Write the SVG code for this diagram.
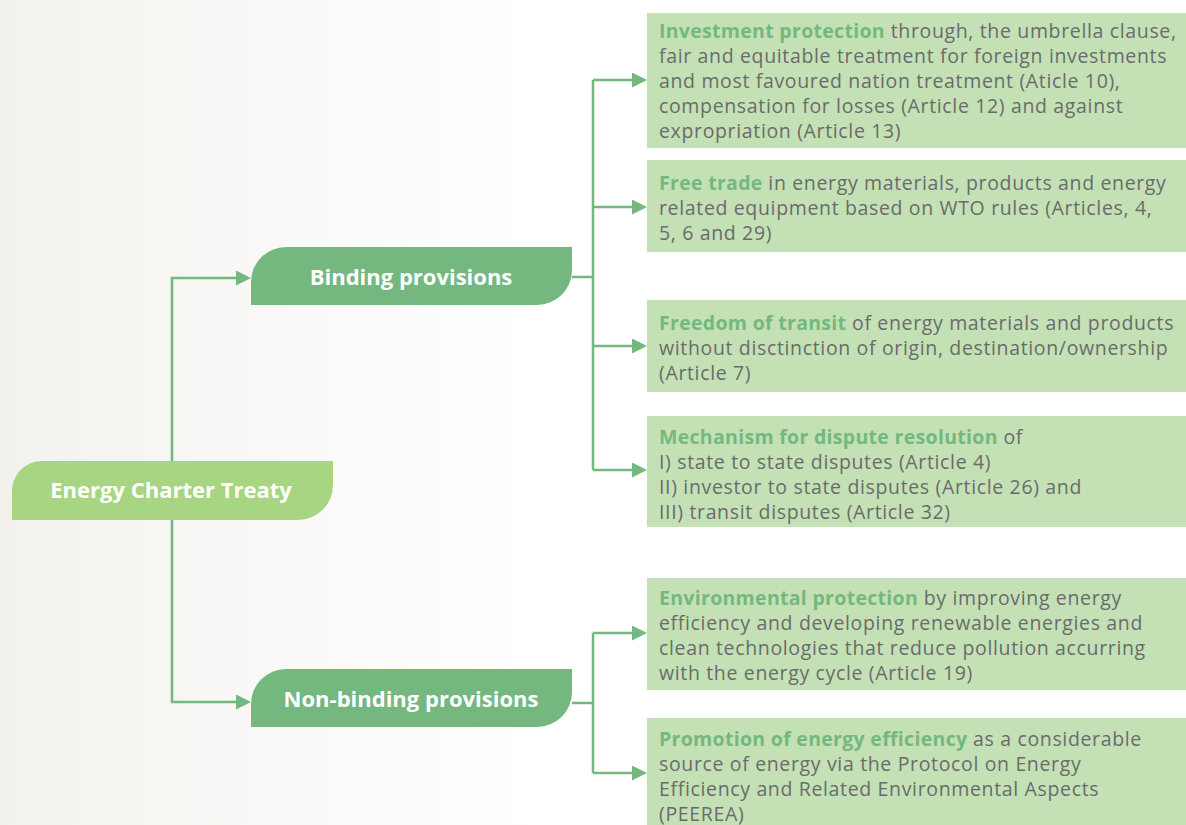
<svg xmlns="http://www.w3.org/2000/svg" width="1186" height="825" viewBox="0 0 1186 825">
<defs>
<style>
.conn{fill:none;stroke:#74b880;stroke-width:2.5}
.box{fill:#c3e1b5}
.t{font-family:"Open Sans","Liberation Sans",sans-serif;font-size:19.5px;letter-spacing:0.65px;fill:#6b6b6b}
.b{font-weight:bold;fill:#74b880;letter-spacing:0.3px}
.nt{font-family:"Open Sans","Liberation Sans",sans-serif;font-size:22px;font-weight:bold;fill:#ffffff;text-anchor:middle}
</style>
<marker id="ah" markerUnits="userSpaceOnUse" markerWidth="15" markerHeight="15" refX="12" refY="7.5" orient="auto">
<path d="M0,0 L15,7.5 L0,15 Z" fill="#74b880"/>
</marker>
<linearGradient id="bg" x1="0" y1="0" x2="1" y2="0">
<stop offset="0" stop-color="#f3f1ec"/>
<stop offset="0.2" stop-color="#f9f8f6"/>
<stop offset="0.45" stop-color="#ffffff"/>
</linearGradient>
</defs>
<rect width="1186" height="825" fill="url(#bg)"/>
<g id="connectors">
<path class="conn" d="M172,461 V278 H248" marker-end="url(#ah)"/>
<path class="conn" d="M172,520 V702 H248" marker-end="url(#ah)"/>
<path class="conn" d="M572,277 H593"/>
<path class="conn" d="M593,80 V470"/>
<path class="conn" d="M593,80 H644" marker-end="url(#ah)"/>
<path class="conn" d="M593,207 H644" marker-end="url(#ah)"/>
<path class="conn" d="M593,346 H644" marker-end="url(#ah)"/>
<path class="conn" d="M593,470 H644" marker-end="url(#ah)"/>
<path class="conn" d="M572,703 H593"/>
<path class="conn" d="M593,633 V773"/>
<path class="conn" d="M593,633 H644" marker-end="url(#ah)"/>
<path class="conn" d="M593,773 H644" marker-end="url(#ah)"/>
</g>
<g id="root">
<path d="M12,520 V491 A30,30 0 0 1 42,461 H333 V485 A35,35 0 0 1 298,520 Z" fill="#a8d582"/>
<text class="nt" x="171" y="498">Energy Charter Treaty</text>
</g>
<g id="binding">
<path d="M251,305 V282 A35,35 0 0 1 286,247 H572 V270 A35,35 0 0 1 537,305 Z" fill="#74b880"/>
<text class="nt" x="411" y="285">Binding provisions</text>
</g>
<g id="nonbinding">
<path d="M251,727 V704 A35,35 0 0 1 286,669 H572 V692 A35,35 0 0 1 537,727 Z" fill="#74b880"/>
<text class="nt" x="411" y="707">Non-binding provisions</text>
</g>
<g id="investment">
<rect class="box" x="647" y="13" width="539" height="135"/>
<text class="t" x="659" y="38"><tspan class="b">Investment protection</tspan> through, the umbrella clause,</text>
<text class="t" x="659" y="63">fair and equitable treatment for foreign investments</text>
<text class="t" x="659" y="88">and most favoured nation treatment (Aticle 10),</text>
<text class="t" x="659" y="113">compensation for losses (Article 12) and against</text>
<text class="t" x="659" y="138">expropriation (Article 13)</text>
</g>
<g id="freetrade">
<rect class="box" x="647" y="160" width="539" height="92"/>
<text class="t" x="659" y="190"><tspan class="b">Free trade</tspan> in energy materials, products and energy</text>
<text class="t" x="659" y="215">related equipment based on WTO rules (Articles, 4,</text>
<text class="t" x="659" y="240">5, 6 and 29)</text>
</g>
<g id="transit">
<rect class="box" x="647" y="300" width="539" height="92"/>
<text class="t" x="659" y="330"><tspan class="b">Freedom of transit</tspan> of energy materials and products</text>
<text class="t" x="659" y="355">without disctinction of origin, destination/ownership</text>
<text class="t" x="659" y="380">(Article 7)</text>
</g>
<g id="dispute">
<rect class="box" x="647" y="416" width="539" height="111"/>
<text class="t" x="659" y="444"><tspan class="b">Mechanism for dispute resolution</tspan> of</text>
<text class="t" x="659" y="469">I) state to state disputes (Article 4)</text>
<text class="t" x="659" y="494">II) investor to state disputes (Article 26) and</text>
<text class="t" x="659" y="519">III) transit disputes (Article 32)</text>
</g>
<g id="environment">
<rect class="box" x="647" y="578" width="539" height="112"/>
<text class="t" x="659" y="605"><tspan class="b">Environmental protection</tspan> by improving energy</text>
<text class="t" x="659" y="630">efficiency and developing renewable energies and</text>
<text class="t" x="659" y="655">clean technologies that reduce pollution accurring</text>
<text class="t" x="659" y="680">with the energy cycle (Article 19)</text>
</g>
<g id="efficiency">
<rect class="box" x="647" y="718" width="539" height="107"/>
<text class="t" x="659" y="746"><tspan class="b">Promotion of energy efficiency</tspan> as a considerable</text>
<text class="t" x="659" y="771">source of energy via the Protocol on Energy</text>
<text class="t" x="659" y="796">Efficiency and Related Environmental Aspects</text>
<text class="t" x="659" y="821">(PEEREA)</text>
</g>
</svg>
